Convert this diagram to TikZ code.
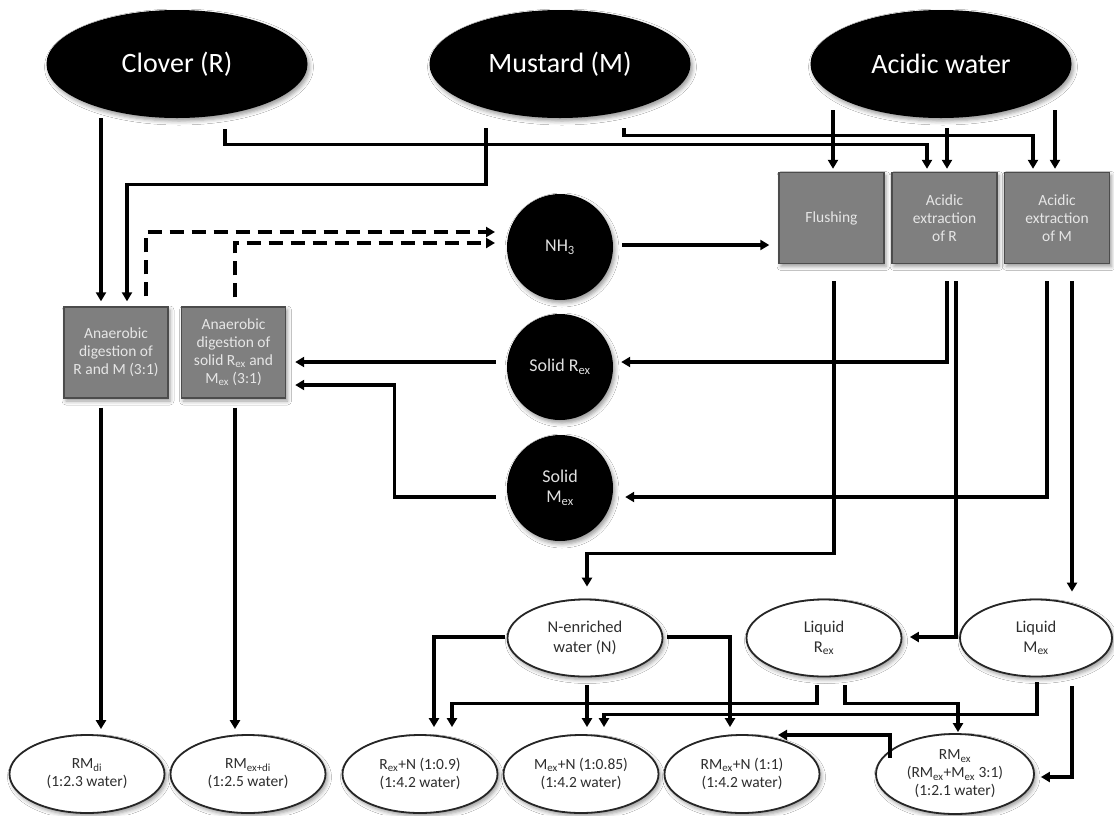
\documentclass[tikz,border=0pt]{standalone}
\usepackage{fontspec}
\setmainfont{Carlito}
\usetikzlibrary{arrows.meta,shapes.geometric,shadows.blur,calc}
\definecolor{boxgray}{HTML}{7F7F7F}
\definecolor{boxtext}{HTML}{E6E6E6}
\definecolor{elltext}{HTML}{2E2E2E}
\tikzset{
  shad/.style={blur shadow={shadow xshift=2pt, shadow yshift=-3pt, shadow blur radius=4pt, shadow opacity=40}},
  topell/.style={ellipse, fill=black, text=white, minimum width=261pt, minimum height=108pt,
    inner sep=0pt, font=\fontsize{28}{32}\selectfont, shad},
  gbox/.style={rectangle, draw=black!70, line width=1.4pt, fill=boxgray, text=boxtext, align=center,
    minimum width=104pt, minimum height=91pt, inner sep=1pt, font=\fontsize{15.5}{18}\selectfont, shad},
  bcirc/.style={circle, fill=black, text=white!88!black, minimum size=106pt, inner sep=0pt, align=center,
    font=\fontsize{18}{20}\selectfont, shad},
  wellm/.style={ellipse, draw=black!85, line width=1.8pt, fill=white, text=elltext, align=center,
    minimum width=155pt, minimum height=77pt, inner sep=0pt, font=\fontsize{16.5}{19.5}\selectfont, shad},
  wellb/.style={wellm, font=\fontsize{15.5}{18}\selectfont, minimum height=78pt},
  arr/.style={line width=3.1pt, -{Triangle[length=9pt,width=10pt]}},
  darr/.style={arr, dash pattern=on 14pt off 8pt},
}
\begin{document}
\begin{tikzpicture}[x=1pt,y=-1pt]
\useasboundingbox[fill=white] (0,0) rectangle (1114,815);

% top sources
\node[topell] (clover)  at (177,64) {Clover (R)};
\node[topell] (mustard) at (560,64) {Mustard (M)};
\node[topell] (acid)    at (941,64) {Acidic water};

% process boxes
\node[gbox] (ad1)   at (116,352.5)  {Anaerobic\\digestion of\\R and M (3:1)};
\node[gbox] (ad2)   at (233.5,352.5){Anaerobic\\digestion of\\solid R\textsubscript{ex} and\\M\textsubscript{ex} (3:1)};
\node[gbox, minimum width=105pt, minimum height=91pt] (flush) at (831.5,218) {Flushing};
\node[gbox, minimum width=105pt, minimum height=91pt] (extR)  at (944.5,218) {Acidic\\extraction\\of R};
\node[gbox, minimum width=105pt, minimum height=91pt] (extM)  at (1057,218)  {Acidic\\extraction\\of M};

% black circles
\node[bcirc] (nh3)  at (560,247) {NH\textsubscript{3}};
\node[bcirc] (solR) at (560,367) {Solid R\textsubscript{ex}};
\node[bcirc] (solM) at (560,488) {Solid\\M\textsubscript{ex}};

% middle ellipses
\node[wellm] (nwater) at (585,638)  {N-enriched\\water (N)};
\node[wellm] (liqR)   at (824,638)  {Liquid\\R\textsubscript{ex}};
\node[wellm, minimum width=152pt] (liqM) at (1036,638) {Liquid\\M\textsubscript{ex}};

% bottom ellipses
\node[wellb] (rmdi)   at (87,774)  {RM\textsubscript{di}\\(1:2.3 water)};
\node[wellb] (rmexdi) at (248,774) {RM\textsubscript{ex+di}\\(1:2.5 water)};
\node[wellb] (rexn)   at (420,774) {R\textsubscript{ex}+N (1:0.9)\\(1:4.2 water)};
\node[wellb] (mexn)   at (581,774) {M\textsubscript{ex}+N (1:0.85)\\(1:4.2 water)};
\node[wellb] (rmexn)  at (742,774) {RM\textsubscript{ex}+N (1:1)\\(1:4.2 water)};
\node[wellb, minimum width=158pt, minimum height=80pt] (rmex) at (955,774)
  {RM\textsubscript{ex}\\(RM\textsubscript{ex}+M\textsubscript{ex} 3:1)\\(1:2.1 water)};

% inputs to anaerobic digestion
\draw[arr] ([xshift=-15pt]ad1.north |- clover.south) -- ([xshift=-15pt,yshift=5pt]ad1.north);
\draw[arr] ([xshift=-74pt,yshift=-10pt]mustard.south) -- ++(0,56) -| ([xshift=11pt,yshift=5pt]ad1.north);

% dashed NH3
\draw[darr] ([xshift=30pt,yshift=10pt]ad1.north) |- ([xshift=-65pt,yshift=15pt]nh3.center);
\draw[darr] ([xshift=1.5pt,yshift=9pt]ad2.north) |- ([xshift=-65pt,yshift=4pt]nh3.center);
\draw[arr] ([xshift=9pt,yshift=2pt]nh3.east) -- ([xshift=-9pt,yshift=-27pt]flush.west);

% sources to extraction
\draw[arr] ([xshift=48pt,yshift=-11pt]clover.south) -- ++(0,15) -| ([xshift=-17.5pt,yshift=3pt]extR.north);
\draw[arr] ([xshift=64pt,yshift=-10pt]mustard.south) -- ++(0,7) -| ([xshift=-24pt,yshift=3pt]extM.north);
\draw[arr] ([xshift=-108pt,yshift=8pt]acid.south) -- ([xshift=1.5pt,yshift=3pt]flush.north);
\draw[arr] ([xshift=6pt,yshift=-10pt]acid.south) -- ([xshift=2.5pt,yshift=3pt]extR.north);
\draw[arr] ([xshift=114pt,yshift=8pt]acid.south) -- ([xshift=-2pt,yshift=3pt]extM.north);

% extraction outputs
\draw[arr] ([xshift=2.5pt,yshift=-17pt]extR.south) |- ([xshift=8pt,yshift=5pt]solR.east);
\draw[arr] ([xshift=11.5pt,yshift=-17pt]extR.south) |- ([xshift=7.5pt,yshift=1pt]liqR.east);
\draw[arr] ([xshift=-10pt,yshift=-17pt]extM.south) |- ([xshift=12pt,yshift=-9pt]solM.east);
\draw[arr] ([xshift=15pt,yshift=-17pt]extM.south) -- ([xshift=36pt,yshift=7pt]liqM.north);
\draw[arr] ([xshift=2.5pt,yshift=-17pt]flush.south) -- ++(0,272) -| ([xshift=2pt,yshift=12pt]nwater.north);

% solids to digestion
\draw[arr] ([xshift=-11pt,yshift=5pt]solR.west) -- ([xshift=9pt,yshift=-9.5pt]ad2.east);
\draw[arr] ([xshift=-11pt,yshift=-9pt]solM.west) -- ++(-101,0) |- ([xshift=9pt,yshift=-32.5pt]ad2.east);

% digestion outputs
\draw[arr] ([xshift=-15pt,yshift=-9pt]ad1.south) -- ([xshift=14pt,yshift=5pt]rmdi.north);
\draw[arr] ([xshift=1.5pt,yshift=-9pt]ad2.south) -- ([xshift=-13pt,yshift=5pt]rmexdi.north);

% mixing
\draw[arr] ([xshift=-2pt,yshift=1pt]nwater.west) -| ([xshift=14pt,yshift=7pt]rexn.north);
\draw[arr] ([xshift=2pt,yshift=-8pt]nwater.south) -- ([xshift=6pt,yshift=7pt]mexn.north);
\draw[arr] ([xshift=4pt,yshift=1pt]nwater.east) -| ([xshift=-12pt,yshift=7pt]rmexn.north);
\draw[arr] ([xshift=-7pt,yshift=-8pt]liqR.south) -- ++(0,18.5) -| ([xshift=32pt,yshift=7pt]rexn.north);
\draw[arr] ([xshift=21pt,yshift=-8pt]liqR.south) -- ++(0,18.5) -| ([xshift=3pt,yshift=1pt]rmex.north);
\draw[arr] ([xshift=1pt,yshift=-5pt]liqM.south) -- ++(0,32.5) -| ([xshift=23pt,yshift=7pt]mexn.north);
\draw[arr] ([xshift=36pt,yshift=-9pt]liqM.south) |- ([xshift=6pt,yshift=-3pt]rmex.east);
\draw[arr] ([xshift=-65pt,yshift=16pt]rmex.center) |- ([xshift=36pt,yshift=39pt]rmexn.center);
\end{tikzpicture}
\end{document}
